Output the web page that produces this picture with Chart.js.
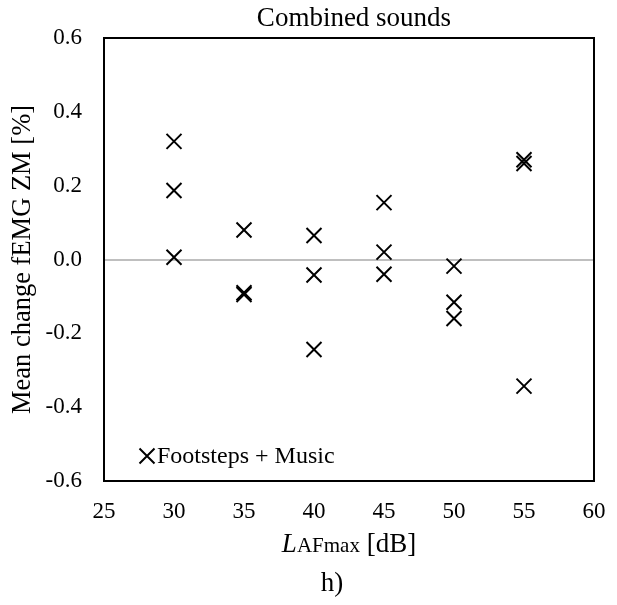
<!DOCTYPE html>
<html>
<head>
<meta charset="utf-8">
<script src="https://cdn.jsdelivr.net/npm/chart.js@4"></script>
<style>
  html, body { margin: 0; padding: 0; background: #fff; }
  #wrap { width: 617px; height: 605px; }
</style>
</head>
<body>
<div id="wrap"><canvas id="chart" width="617" height="605"></canvas></div>
<script>
// sound level LAFmax [dB] for each point
const levels = [30, 30, 30, 35, 35, 35, 40, 40, 40, 45, 45, 45, 50, 50, 50, 55, 55, 55];
// mean change fEMG ZM [%]
const meanChange = [0.32, 0.187, 0.006, 0.08, -0.09, -0.095, 0.065, -0.042, -0.244,
  0.154, 0.02, -0.04, -0.018, -0.116, -0.16, 0.27, 0.26, -0.343];
const xTicks = [25, 30, 35, 40, 45, 50, 55, 60];
const yTicks = [-0.6, -0.4, -0.2, 0.0, 0.2, 0.4, 0.6];
const seriesName = 'Footsteps + Music';

const serif = '"Liberation Serif", "Times New Roman", serif';

const points = levels.map((x, i) => ({ x: x, y: meanChange[i] }));

const textPlugin = {
  id: 'textPlugin',
  afterDraw(chart) {
    const ctx = chart.ctx;
    const a = chart.chartArea;
    const mid = (a.left + a.right) / 2;
    ctx.save();
    // frame
    ctx.strokeStyle = '#000';
    ctx.lineWidth = 2;
    ctx.strokeRect(a.left, a.top, a.right - a.left, a.bottom - a.top);

    ctx.fillStyle = '#000';
    ctx.textBaseline = 'middle';

    // title
    ctx.font = '27px ' + serif;
    ctx.textAlign = 'center';
    ctx.fillText('Combined sounds', mid + 5, 19);

    // x axis title: L (italic) + AFmax (small) + [dB]
    const p1 = 'L', p2 = 'AFmax', p3 = ' [dB]';
    ctx.font = 'italic 27px ' + serif;
    const w1 = ctx.measureText(p1).width;
    ctx.font = '21px ' + serif;
    const w2 = ctx.measureText(p2).width;
    ctx.font = '27px ' + serif;
    const w3 = ctx.measureText(p3).width;
    let x = mid - (w1 + w2 + w3) / 2;
    const base = 552;
    ctx.textAlign = 'left';
    ctx.textBaseline = 'alphabetic';
    ctx.font = 'italic 27px ' + serif;
    ctx.fillText(p1, x, base);
    x += w1;
    ctx.font = '21px ' + serif;
    ctx.fillText(p2, x, base);
    x += w2;
    ctx.font = '27px ' + serif;
    ctx.fillText(p3, x, base);

    // panel label
    ctx.textAlign = 'center';
    ctx.textBaseline = 'middle';
    ctx.fillText('h)', mid - 17, 584);

    // legend inside plot
    const lx = 147, ly = 456;
    ctx.lineWidth = 2;
    ctx.beginPath();
    ctx.moveTo(lx - 7.5, ly - 7.5);
    ctx.lineTo(lx + 7.5, ly + 7.5);
    ctx.moveTo(lx + 7.5, ly - 7.5);
    ctx.lineTo(lx - 7.5, ly + 7.5);
    ctx.stroke();
    ctx.textAlign = 'left';
    ctx.font = '24px ' + serif;
    ctx.fillText(seriesName, lx + 10, ly + 1);
    ctx.restore();
  }
};

new Chart(document.getElementById('chart'), {
  type: 'scatter',
  data: {
    datasets: [{
      label: seriesName,
      data: points,
      pointStyle: 'crossRot',
      pointRadius: 10.6,
      pointHoverRadius: 10.6,
      borderColor: '#000',
      backgroundColor: '#000',
      borderWidth: 2,
      pointBorderWidth: 2
    }]
  },
  options: {
    responsive: false,
    animation: false,
    events: [],
    layout: { padding: { top: 38, right: 23, bottom: 0, left: 0 } },
    plugins: {
      legend: { display: false },
      tooltip: { enabled: false },
      title: { display: false }
    },
    scales: {
      x: {
        type: 'linear',
        min: 25,
        max: 60,
        afterBuildTicks: (scale) => { scale.ticks = xTicks.map(v => ({ value: v })); },
        afterFit: (scale) => {
          scale.height = 124;
          scale.paddingLeft = 0;
          scale.paddingRight = 0;
        },
        grid: { display: false, drawTicks: false },
        border: { display: false },
        ticks: {
          color: '#000',
          padding: 17,
          maxRotation: 0,
          font: { family: serif, size: 23 },
          callback: (v) => String(v)
        }
      },
      y: {
        min: -0.6,
        max: 0.6,
        afterBuildTicks: (scale) => { scale.ticks = yTicks.map(v => ({ value: v })); },
        afterFit: (scale) => {
          scale.width = 104;
          scale.paddingTop = 0;
          scale.paddingBottom = 0;
        },
        grid: {
          drawTicks: false,
          lineWidth: 2,
          color: (c) => (c.tick && Math.abs(c.tick.value) < 1e-9 ? '#bfbfbf' : 'rgba(0,0,0,0)')
        },
        border: { display: false },
        title: {
          display: true,
          text: 'Mean change fEMG ZM [%]',
          color: '#000',
          padding: { top: 7, bottom: 0 },
          font: { family: serif, size: 26.5 }
        },
        ticks: {
          color: '#000',
          padding: 22,
          font: { family: serif, size: 23 },
          callback: (v) => Number(v).toFixed(1)
        }
      }
    }
  },
  plugins: [textPlugin]
});
</script>
</body>
</html>
